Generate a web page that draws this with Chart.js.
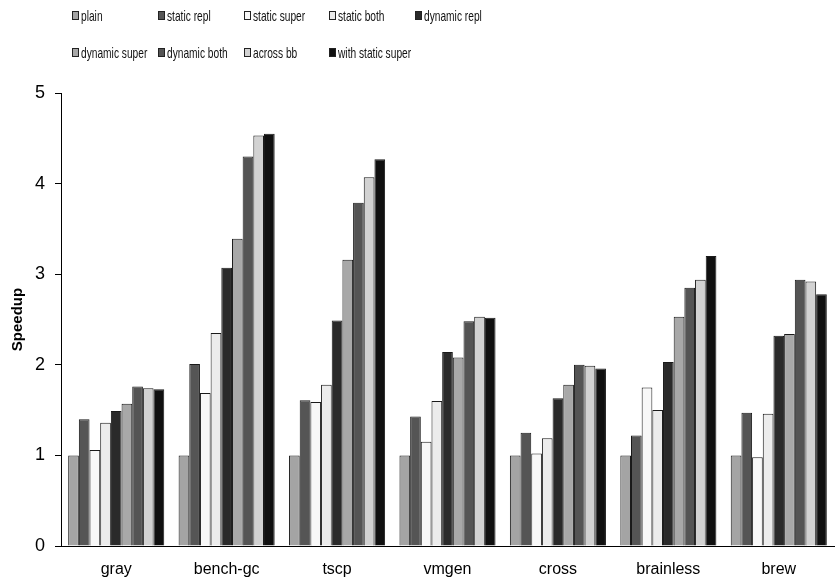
<!DOCTYPE html>
<html>
<head>
<meta charset="utf-8">
<script src="https://cdn.jsdelivr.net/npm/chart.js@4/dist/chart.umd.min.js"></script>
<style>
  html, body { margin: 0; padding: 0; background: #fff; }
  #wrap { position: relative; width: 836px; height: 584px; }
  #chart { position: absolute; left: 0; top: 0; }
  #legend { position: absolute; left: 0; top: 0; width: 836px; height: 70px;
            font-family: "Liberation Sans", Arial, sans-serif; font-size: 15px; color: #111; }
  .item { position: absolute; white-space: nowrap; line-height: 16px; }
  .box { display: inline-block; width: 5px; height: 7px; border: 1px solid #222;
         margin-right: 2px; vertical-align: 1px; }
  .txt { display: inline-block; transform: scaleX(0.68); transform-origin: 0 50%; }
</style>
</head>
<body>
<div id="wrap">
  <canvas id="chart" width="836" height="584"></canvas>
  <div id="legend"></div>
</div>
<script>
const categories = ['gray', 'bench-gc', 'tscp', 'vmgen', 'cross', 'brainless', 'brew'];

const seriesNames = ['plain', 'static repl', 'static super', 'static both', 'dynamic repl',
                     'dynamic super', 'dynamic both', 'across bb', 'with static super'];

const seriesColors = ['#a4a4a4', '#555555', '#f8f8f8', '#ececec', '#2a2a2a',
                      '#a8a8a8', '#545454', '#d2d2d2', '#101010'];

const plain           = [1.00, 1.00, 1.00, 1.00, 1.00, 1.00, 1.00];
const staticRepl      = [1.40, 2.01, 1.61, 1.43, 1.25, 1.22, 1.47];
const staticSuper     = [1.06, 1.69, 1.59, 1.15, 1.02, 1.75, 0.98];
const staticBoth      = [1.36, 2.35, 1.78, 1.60, 1.19, 1.50, 1.46];
const dynamicRepl     = [1.49, 3.07, 2.49, 2.14, 1.63, 2.03, 2.32];
const dynamicSuper    = [1.57, 3.39, 3.16, 2.08, 1.78, 2.53, 2.34];
const dynamicBoth     = [1.76, 4.30, 3.79, 2.48, 2.00, 2.85, 2.94];
const acrossBB        = [1.74, 4.53, 4.07, 2.53, 1.99, 2.94, 2.92];
const withStaticSuper = [1.73, 4.55, 4.27, 2.52, 1.96, 3.20, 2.78];

const yTicks = [0, 1, 2, 3, 4, 5];

const seriesValues = [plain, staticRepl, staticSuper, staticBoth, dynamicRepl,
                      dynamicSuper, dynamicBoth, acrossBB, withStaticSuper];

// legend laid out on a fixed column grid, two rows
const legendCols = [72, 158, 244, 329, 415];
const legendRows = [8, 45];
const legendEl = document.getElementById('legend');
seriesNames.forEach((name, i) => {
  const d = document.createElement('div');
  d.className = 'item';
  d.style.left = legendCols[i % 5] + 'px';
  d.style.top = legendRows[Math.floor(i / 5)] + 'px';
  const b = document.createElement('span');
  b.className = 'box';
  b.style.background = seriesColors[i];
  const t = document.createElement('span');
  t.className = 'txt';
  t.textContent = name;
  d.appendChild(b);
  d.appendChild(t);
  legendEl.appendChild(d);
});

const fontFamily = '"Liberation Sans", Arial, sans-serif';

new Chart(document.getElementById('chart'), {
  type: 'bar',
  data: {
    labels: categories,
    datasets: seriesNames.map((name, i) => ({
      label: name,
      data: seriesValues[i],
      backgroundColor: seriesColors[i],
      borderColor: '#1a1a1a',
      borderWidth: 1,
      categoryPercentage: 0.87,
      barPercentage: 1.0
    }))
  },
  options: {
    responsive: false,
    animation: false,
    layout: { padding: { top: 93, left: 3, right: 2, bottom: 0 } },
    plugins: { legend: { display: false }, tooltip: { enabled: false } },
    scales: {
      x: {
        afterFit: (scale) => { scale.height = 38; },
        grid: { display: false, drawTicks: false },
        border: { display: true, color: '#000', width: 1 },
        ticks: { color: '#000', font: { family: fontFamily, size: 16 }, padding: 14 }
      },
      y: {
        min: 0, max: 5,
        afterFit: (scale) => { scale.width = 58; },
        afterBuildTicks: (scale) => { scale.ticks = yTicks.map(v => ({ value: v })); },
        grid: { drawOnChartArea: false, drawTicks: true, tickLength: 6, color: '#000' },
        border: { display: true, color: '#000', width: 1 },
        ticks: { color: '#000', font: { family: fontFamily, size: 18 }, padding: 10 },
        title: { display: true, text: 'Speedup', color: '#000',
                 font: { family: fontFamily, size: 15, weight: 'bold' }, padding: { top: 6, bottom: 0 } }
      }
    }
  }
});
</script>
</body>
</html>
